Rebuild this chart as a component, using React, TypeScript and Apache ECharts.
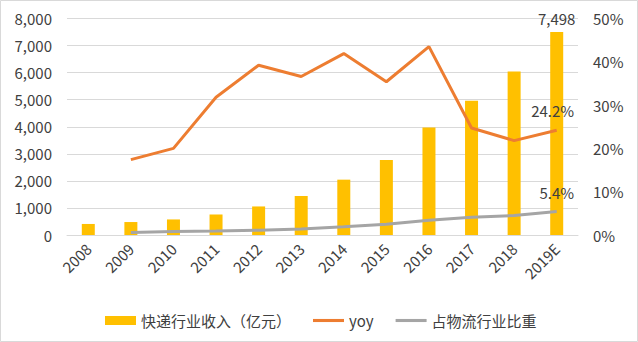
import React, { useEffect, useRef } from "react";
import * as echarts from "echarts";

const categories = ["2008", "2009", "2010", "2011", "2012", "2013", "2014", "2015", "2016", "2017", "2018", "2019E"];
const revenue = [408, 479, 575, 758, 1055, 1441, 2045, 2770, 3974, 4957, 6038, 7498];
const yoy = [null, 17.4, 20.0, 31.8, 39.2, 36.6, 41.9, 35.4, 43.5, 24.7, 21.8, 24.2];
const share = [null, 0.6, 0.8, 0.9, 1.1, 1.4, 1.9, 2.5, 3.4, 4.1, 4.5, 5.4];
const leftTicks = [0, 8000, 1000];
const rightTicks = [0, 50, 10];

const FONT = "'Noto Sans CJK SC', 'Noto Sans', sans-serif";
const LINE_ICON = "path://M0,0 L30,0 L30,3 L0,3 Z";

export default function App() {
  const ref = useRef<HTMLDivElement>(null);
  useEffect(() => {
    document.body.style.margin = "0";
    const chart = echarts.init(ref.current!, null, { renderer: "svg" });
    const last = categories.length - 1;
    chart.setOption({
      animation: false,
      textStyle: { fontFamily: FONT },
      graphic: [
        {
          type: "rect",
          shape: { x: 0.5, y: 0.5, width: 637, height: 341 },
          style: { fill: "none", stroke: "#d9d9d9", lineWidth: 1 },
          silent: true,
        },
      ],
      grid: { left: 67, right: 60, top: 18.5, bottom: 107 },
      legend: {
        left: 100,
        top: 308,
        itemWidth: 31,
        itemHeight: 9,
        itemGap: 22,
        textStyle: { fontSize: 15, color: "#404040", fontFamily: FONT },
        data: [
          { name: "快递行业收入（亿元）", icon: "rect" },
          { name: "yoy", icon: LINE_ICON },
          { name: "占物流行业比重", icon: LINE_ICON },
        ],
      },
      xAxis: {
        type: "category",
        data: categories,
        axisLine: { lineStyle: { color: "#d9d9d9" } },
        axisTick: { show: false },
        axisLabel: { rotate: 45, fontSize: 15, color: "#404040", margin: 11, interval: 0 },
      },
      yAxis: [
        {
          type: "value",
          min: leftTicks[0],
          max: leftTicks[1],
          interval: leftTicks[2],
          axisLine: { show: false },
          axisTick: { show: false },
          splitLine: { lineStyle: { color: "#d9d9d9" } },
          axisLabel: {
            fontSize: 15,
            color: "#404040",
            margin: 15,
            formatter: (v: number) => v.toLocaleString("en-US"),
          },
        },
        {
          type: "value",
          min: rightTicks[0],
          max: rightTicks[1],
          interval: rightTicks[2],
          axisLine: { show: false },
          axisTick: { show: false },
          splitLine: { show: false },
          axisLabel: { fontSize: 15, color: "#404040", margin: 15, formatter: "{value}%" },
        },
      ],
      series: [
        {
          name: "快递行业收入（亿元）",
          type: "bar",
          barWidth: 13,
          itemStyle: { color: "#FFC000" },
          data: revenue.map((v, i) =>
            i === last
              ? {
                  value: v,
                  label: {
                    show: true,
                    position: "top",
                    distance: 6,
                    fontSize: 15,
                    color: "#404040",
                    formatter: (p: any) => p.value.toLocaleString("en-US"),
                  },
                }
              : v
          ),
        },
        {
          name: "yoy",
          type: "line",
          yAxisIndex: 1,
          symbol: "none",
          lineStyle: { color: "#ED7D31", width: 3 },
          itemStyle: { color: "#ED7D31" },
          data: yoy.map((v, i) =>
            i === last
              ? {
                  value: v,
                  symbol: "circle",
                  symbolSize: 0.1,
                  label: {
                    show: true,
                    position: "top",
                    distance: 12,
                    offset: [-4, 0],
                    fontSize: 15,
                    color: "#404040",
                    formatter: (p: any) => p.value.toFixed(1) + "%",
                  },
                }
              : v
          ),
        },
        {
          name: "占物流行业比重",
          type: "line",
          yAxisIndex: 1,
          symbol: "none",
          lineStyle: { color: "#A5A5A5", width: 3 },
          itemStyle: { color: "#A5A5A5" },
          data: share.map((v, i) =>
            i === last
              ? {
                  value: v,
                  symbol: "circle",
                  symbolSize: 0.1,
                  label: {
                    show: true,
                    position: "top",
                    distance: 12,
                    fontSize: 15,
                    color: "#404040",
                    formatter: (p: any) => p.value.toFixed(1) + "%",
                  },
                }
              : v
          ),
        },
      ],
    });
    return () => chart.dispose();
  }, []);
  return <div ref={ref} style={{ width: 638, height: 342 }} />;
}
